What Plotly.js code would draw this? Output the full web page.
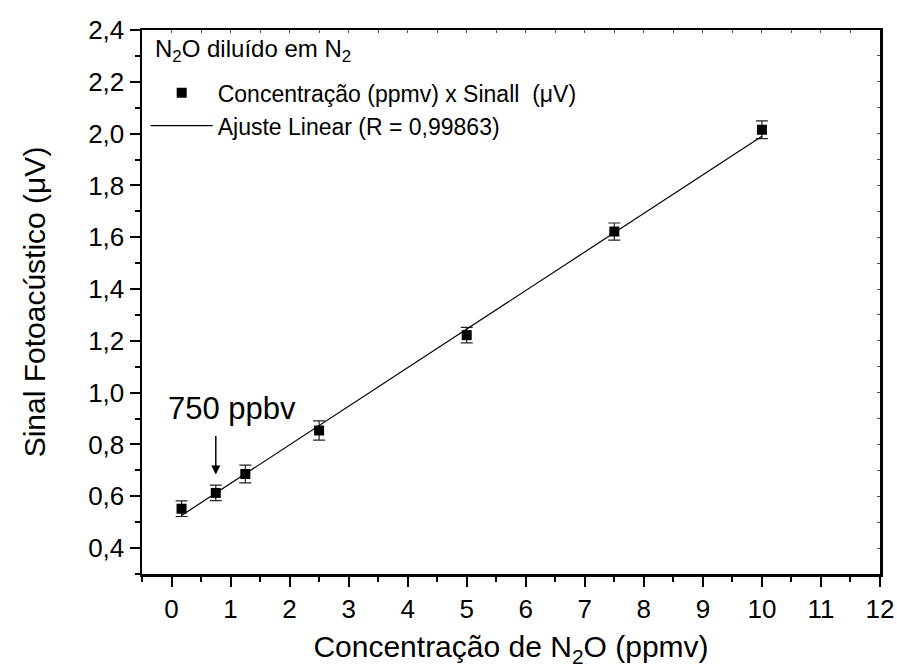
<!DOCTYPE html>
<html>
<head>
<meta charset="utf-8">
<script src="https://cdn.plot.ly/plotly-3.0.1.min.js"></script>
<style>html,body{margin:0;padding:0;background:#fff;}#chart{width:897px;height:668px;}</style>
</head>
<body>
<div id="chart"></div>
<script>
// Data
const concPpmv = [0.17, 0.75, 1.25, 2.5, 5.0, 7.5, 10.0];
const signalUV = [0.552, 0.613, 0.686, 0.854, 1.222, 1.622, 2.015];
const signalErr = [0.030, 0.030, 0.034, 0.037, 0.030, 0.033, 0.034];
const fitX = [0.17, 10.0];
const fitY = [0.526, 1.99];
const xTickVals = [0,1,2,3,4,5,6,7,8,9,10,11,12];
const yTickVals = [0.4,0.6,0.8,1.0,1.2,1.4,1.6,1.8,2.0,2.2,2.4];
const yTickText = ["0,4","0,6","0,8","1,0","1,2","1,4","1,6","1,8","2,0","2,2","2,4"];

const FONT = "'Liberation Sans', Arial, sans-serif";

const traces = [
  {
    x: concPpmv, y: signalUV, type: 'scatter', mode: 'markers',
    name: 'Concentração (ppmv) x Sinall  (μV)',
    marker: {symbol: 'square', size: 10, color: '#000'},
    error_y: {type: 'data', array: signalErr, visible: true, color: '#222', thickness: 1.2, width: 6}
  },
  {
    x: fitX, y: fitY, type: 'scatter', mode: 'lines',
    name: 'Ajuste Linear (R = 0,99863)',
    line: {color: '#000', width: 1.2}
  },
  {
    x: [], y: [], xaxis: 'x2', yaxis: 'y2', type: 'scatter', mode: 'markers',
    showlegend: false, hoverinfo: 'skip'
  }
];

const axisCommon = {
  showline: true, linecolor: '#000', linewidth: 2.5,
  showgrid: false, zeroline: false,
  tickcolor: '#000', tickwidth: 2,
  tickfont: {family: FONT, size: 26, color: '#000'}
};

const layout = {
  width: 897, height: 668,
  paper_bgcolor: '#fff', plot_bgcolor: '#fff',
  margin: {l: 142, r: 17, t: 30, b: 94},
  showlegend: true,
  legend: {
    x: 0.005, y: 0.924, xanchor: 'left', yanchor: 'top',
    bgcolor: 'rgba(0,0,0,0)', borderwidth: 0,
    font: {family: FONT, size: 23, color: '#000'},
    tracegroupgap: 0, itemwidth: 62
  },
  xaxis: Object.assign({}, axisCommon, {
    range: [-0.5, 12], tickmode: 'array', tickvals: xTickVals,
    ticks: 'outside', ticklen: 10,
    minor: {dtick: 0.5, tick0: 0.5, ticks: 'outside', ticklen: 5, tickwidth: 2, tickcolor: '#000', showgrid: false},
    title: {text: 'Concentração de N<sub>2</sub>O (ppmv)', font: {family: FONT, size: 30, color: '#000'}, standoff: 14}
  }),
  yaxis: Object.assign({}, axisCommon, {
    range: [0.3, 2.4], tickmode: 'array', tickvals: yTickVals, ticktext: yTickText,
    ticks: 'outside', ticklen: 10,
    minor: {dtick: 0.1, tick0: 0.3, ticks: 'outside', ticklen: 5, tickwidth: 2, tickcolor: '#000', showgrid: false},
    title: {text: 'Sinal Fotoacústico (μV)', font: {family: FONT, size: 30, color: '#000'}, standoff: 34}
  }),
  xaxis2: {
    overlaying: 'x', side: 'top', range: [-0.5, 12], showline: true, linecolor: '#000', linewidth: 2.5,
    showgrid: false, zeroline: false, showticklabels: false,
    ticks: 'inside', ticklen: 3, tickwidth: 1, tickcolor: '#555', dtick: 0.5, tick0: 0
  },
  yaxis2: {
    overlaying: 'y', side: 'right', range: [0.3, 2.4], showline: true, linecolor: '#000', linewidth: 2.5,
    showgrid: false, zeroline: false, showticklabels: false,
    ticks: 'inside', ticklen: 3, tickwidth: 1, tickcolor: '#555', dtick: 0.1, tick0: 0.3
  },
  annotations: [
    {
      x: 0.015, y: 0.963, xref: 'paper', yref: 'paper', xanchor: 'left', yanchor: 'middle',
      text: 'N<sub>2</sub>O diluído em N<sub>2</sub>', showarrow: false,
      font: {family: FONT, size: 24, color: '#000'}
    },
    {
      x: 0.75, y: 0.684, xref: 'x', yref: 'y', text: '', showarrow: true,
      ax: 0, ay: -40, arrowhead: 2, arrowsize: 1.2, arrowwidth: 1.5, arrowcolor: '#000'
    },
    {
      x: 1.03, y: 0.937, xref: 'x', yref: 'y', text: '750 ppbv', showarrow: false,
      font: {family: FONT, size: 31, color: '#000'}, xanchor: 'center', yanchor: 'middle'
    }
  ]
};

Plotly.newPlot('chart', traces, layout, {displayModeBar: false, staticPlot: true});
</script>
</body>
</html>
